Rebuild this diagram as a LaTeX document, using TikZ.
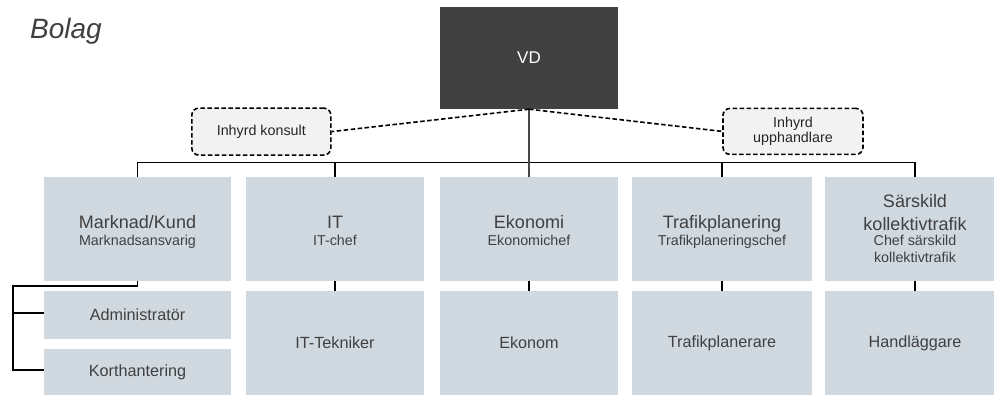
\documentclass[tikz,border=0pt]{standalone}
\usepackage{fontspec}
\setmainfont{Liberation Sans}
\definecolor{unitfill}{RGB}{209,217,224}
\definecolor{vdfill}{RGB}{64,65,64}
\definecolor{txt}{RGB}{64,64,64}
\definecolor{notefill}{RGB}{242,242,242}
\definecolor{vdline}{RGB}{72,72,72}
\begin{document}
\begin{tikzpicture}[x=1pt,y=-1pt,
  unit/.style={fill=unitfill, draw=none, inner sep=0pt, text=txt},
  item/.style={unit, font=\fontsize{16.2}{19}\selectfont},
  head/.style={anchor=base, inner sep=0pt, text=txt, font=\fontsize{18}{21}\selectfont},
  subline/.style={anchor=base, inner sep=0pt, text=txt, font=\fontsize{14.3}{17}\selectfont},
  note/.style={draw=black, fill=notefill, line width=1.6pt, dash pattern=on 4.5pt off 2.5pt,
    rounded corners=7pt, inner sep=0pt, align=center, text=black!85,
    font=\fontsize{14.3}{15.5}\selectfont},
  conn/.style={draw=black, line width=1.6pt},
  noteline/.style={draw=black, line width=1.6pt, dash pattern=on 4.5pt off 2.5pt},
  vdconn/.style={draw=vdline, line width=2pt}
]
\useasboundingbox (0,0) rectangle (994,394);
\clip (0,0) rectangle (994,394);

% title
\node[anchor=base west, inner sep=0pt, text=txt,
  font=\fontsize{28}{34}\selectfont\itshape] (title) at (30,38.3) {Bolag};

% managing director
\node[fill=vdfill, inner sep=0pt, minimum width=178pt, minimum height=102pt,
  text=white, font=\fontsize{17}{20}\selectfont] (vd) at (529,58) {VD};

% hired staff
\node[note, minimum width=139pt, minimum height=47pt] (kons) at (261.3,131.6) {Inhyrd konsult};
\node[note, minimum width=140pt, minimum height=46pt] (upph) at (793,131.4) {Inhyrd\\upphandlare};

% department boxes
\node[unit, minimum width=187pt, minimum height=104pt] (mk) at (137.5,229) {};
\node[unit, minimum width=178pt, minimum height=104pt] (it) at (335,229) {};
\node[unit, minimum width=178pt, minimum height=104pt] (ek) at (529,229) {};
\node[unit, minimum width=180pt, minimum height=104pt] (tp) at (722,229) {};
\node[unit, minimum width=180pt, minimum height=104pt] (sk) at (915,229) {};

% department titles
\node[head] (mkH) at (137.5,228.5) {Marknad/Kund};
\node[subline] (mkS) at (137.5,245.7) {Marknadsansvarig};
\node[head] (itH) at (335,228.5) {IT};
\node[subline] (itS) at (335,245.7) {IT-chef};
\node[head] (ekH) at (529,228.5) {Ekonomi};
\node[subline] (ekS) at (529,245.7) {Ekonomichef};
\node[head] (tpH) at (722,228.5) {Trafikplanering};
\node[subline] (tpS) at (722,245.7) {Trafikplaneringschef};
\node[head] (skH1) at (915,207.5) {Särskild};
\node[head] (skH2) at (915,230.5) {kollektivtrafik};
\node[subline] (skS1) at (915,245.5) {Chef särskild};
\node[subline] (skS2) at (915,262.5) {kollektivtrafik};

% staff boxes
\node[item, minimum width=187pt, minimum height=48pt] (ad) at (137.5,315) {Administratör};
\node[item, minimum width=187pt, minimum height=46pt] (kh) at (137.5,372) {Korthantering};
\node[item, minimum width=178pt, minimum height=104pt] (itt) at (335,343) {IT-Tekniker};
\node[item, minimum width=178pt, minimum height=104pt] (ekt) at (529,343) {Ekonom};
\node[item, minimum width=180pt, minimum height=104pt] (tpt) at (722,343) {Trafikplanerare};
\node[item, minimum width=180pt, minimum height=104pt] (skt) at (915,343) {Handläggare};

% reporting lines
\coordinate (bus) at (0,162.5);
\draw[conn] (mk.north) |- (bus -| sk.north) -- (sk.north);
\draw[conn] (it.north) -- (it.north |- bus);
\draw[conn] (tp.north) -- (tp.north |- bus);
\draw[vdconn] (vd.south) -- (ek.north);
\draw[noteline] (vd.south) -- (kons.east);
\draw[noteline] (vd.south) -- (upph.west);

\draw[conn] (it.south) -- (itt.north);
\draw[conn] (ek.south) -- (ekt.north);
\draw[conn] (tp.south) -- (tpt.north);
\draw[conn] (sk.south) -- (skt.north);

% bracket to the Marknad/Kund staff
\coordinate (brk) at (12.7,286);
\coordinate (adIn) at ([yshift=2pt]ad.west);
\coordinate (khIn) at ([yshift=2pt]kh.west);
\draw[conn] (mk.south) |- (brk) |- (khIn);
\draw[conn] (adIn -| brk) -- (adIn);
\end{tikzpicture}
\end{document}
